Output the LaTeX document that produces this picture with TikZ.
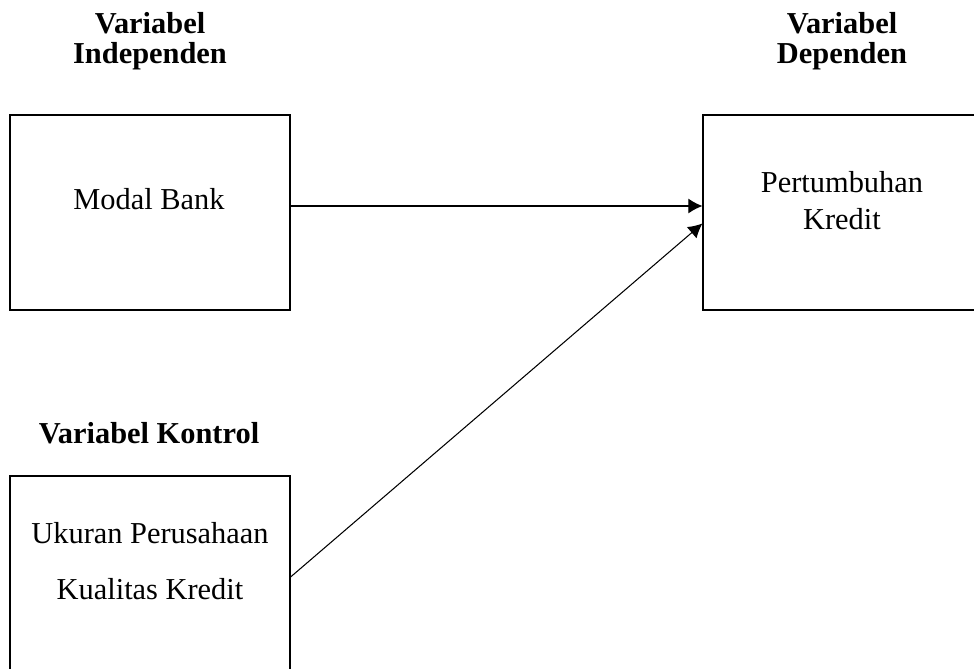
\documentclass[tikz,border=0pt]{standalone}
\usepackage{fontspec}
\setmainfont{Liberation Serif}
\usepackage{tikz}
\usetikzlibrary{arrows.meta}

\begin{document}
\begin{tikzpicture}[x=0.02cm,y=-0.02cm,
	varbox/.style={draw,line width=0.7pt,minimum width=5.6cm,minimum height=3.9cm,inner sep=0pt},
	lbl/.style={inner sep=0pt,align=center,font=\fontsize{17.3}{21}\selectfont},
	hdr/.style={inner sep=0pt,align=center,font=\fontsize{17.3}{17}\selectfont\bfseries},
	panah/.style={line width=0.6pt,-{Latex[length=8pt,width=8.5pt]}}]
	\useasboundingbox (0,0) rectangle (974,669);
	% kotak
	\node[varbox] (modal) at (150,212.5) {};
	\node[varbox] (dep) at (843,212.5) {};
	\node[varbox] (kontrol) at (150,573.5) {};
	% judul
	\node[hdr] (hind) at (150,41.5) {Variabel\\Independen};
	\node[hdr] (hdep) at (842,41.5) {Variabel\\Dependen};
	\node[hdr,anchor=base] (hkon) at (149,443) {Variabel Kontrol};
	% isi kotak
	\node[lbl,anchor=base] (tmodal) at (149,210) {Modal Bank};
	\node[lbl] (tdep) at (842,201) {Pertumbuhan\\Kredit};
	\node[lbl,font=\fontsize{17.3}{31.8}\selectfont] (tkon) at (150,561.5) {Ukuran Perusahaan\\Kualitas Kredit};
	% panah
	\draw[panah] ([yshift=0.13cm]modal.east) -- ([yshift=0.13cm]dep.west);
	\draw[panah] ([yshift=-0.07cm]kontrol.east) -- ([yshift=-0.22cm]dep.west);
\end{tikzpicture}
\end{document}
